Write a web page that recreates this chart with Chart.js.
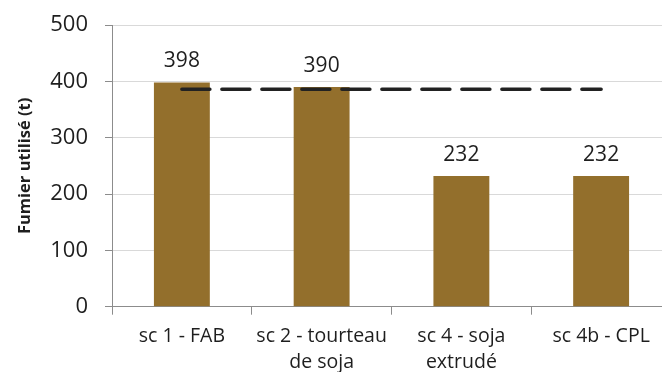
<!DOCTYPE html>
<html>
<head>
<meta charset="utf-8">
<script src="https://cdn.jsdelivr.net/npm/chart.js@4/dist/chart.umd.min.js"></script>
<style>
  html, body { margin: 0; padding: 0; background: #fff; overflow: hidden; }
  #wrap { position: relative; width: 671px; height: 372px; }
</style>
</head>
<body>
<div id="wrap"><canvas id="chart"></canvas></div>
<script>
// Fumier utilisé par scénario (t)
const scenarios = [
  ['sc 1 - FAB'],
  ['sc 2 - tourteau', 'de soja'],
  ['sc 4 - soja', 'extrudé'],
  ['sc 4b - CPL']
];
const fumier = [398, 390, 232, 232];
const reference = [386, 386, 386, 386];
const yTicks = [0, 100, 200, 300, 400, 500];

const ink = '#1e1e1e';

// valeurs au-dessus des barres
const barLabels = {
  id: 'barLabels',
  afterDatasetsDraw(chart) {
    const ctx = chart.ctx;
    const meta = chart.getDatasetMeta(0);
    ctx.save();
    ctx.font = '21px "Open Sans"';
    ctx.fillStyle = ink;
    ctx.textAlign = 'center';
    ctx.textBaseline = 'alphabetic';
    meta.data.forEach((bar, i) => {
      ctx.fillText(String(fumier[i]), bar.x, bar.y - 15);
    });
    ctx.restore();
  }
};

new Chart(document.getElementById('chart'), {
  data: {
    labels: scenarios,
    datasets: [
      {
        type: 'bar',
        data: fumier,
        backgroundColor: '#936f2c',
        barPercentage: 0.4,
        categoryPercentage: 1,
        order: 2
      },
      {
        type: 'line',
        data: reference,
        borderColor: '#222',
        borderWidth: 3.5,
        borderDash: [28, 12],
        borderCapStyle: 'round',
        pointRadius: 0,
        fill: false,
        order: 1
      }
    ]
  },
  options: {
    responsive: true,
    maintainAspectRatio: false,
    animation: false,
    events: [],
    layout: { padding: { top: 25, left: 0, right: 0, bottom: 0 } },
    plugins: {
      legend: { display: false },
      tooltip: { enabled: false }
    },
    scales: {
      x: {
        offset: true,
        grid: {
          offset: true,
          drawOnChartArea: false,
          tickLength: 8,
          tickColor: '#8c8c8c'
        },
        border: { color: '#8c8c8c' },
        ticks: {
          color: ink,
          font: { family: 'Open Sans', size: 19.5, lineHeight: 1.33 },
          maxRotation: 0,
          autoSkip: false,
          padding: 9
        },
        afterFit: s => { s.height = 65.3; }
      },
      y: {
        min: 0,
        max: 500,
        afterBuildTicks: s => { s.ticks = yTicks.map(v => ({ value: v })); },
        grid: {
          color: '#d9d9d9',
          tickColor: '#8c8c8c',
          tickLength: 7
        },
        border: { color: '#8c8c8c' },
        ticks: {
          color: ink,
          font: { family: 'Open Sans', size: 22 },
          padding: 17
        },
        title: {
          display: true,
          text: 'Fumier utilisé (t)',
          color: ink,
          font: { family: 'Open Sans', size: 16.5, weight: 'bold' },
          padding: { top: 15, bottom: 0 }
        },
        afterFit: s => {
          s.width = 112;
          s.paddingTop = 0;
          s.paddingBottom = 0;
        }
      }
    }
  },
  plugins: [barLabels]
});
</script>
</body>
</html>
